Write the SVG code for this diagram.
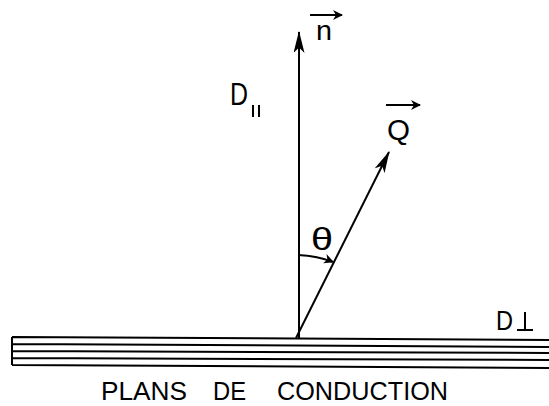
<svg xmlns="http://www.w3.org/2000/svg" width="549" height="406" viewBox="0 0 549 406">
<defs>
<marker id="ah" viewBox="0 0 10 10" refX="9" refY="5" markerWidth="10" markerHeight="10" markerUnits="userSpaceOnUse" orient="auto"><path d="M0,0 L10,5 L0,10 L3,5 Z" fill="#000"/></marker>
<marker id="big" viewBox="0 0 20 10" refX="19" refY="5" markerWidth="22" markerHeight="11" markerUnits="userSpaceOnUse" orient="auto"><path d="M0,0 L20,5 L0,10 L5,5 Z" fill="#000"/></marker>
</defs>
<style>
.l{stroke:#000;fill:none;stroke-width:2}
.t{font-family:"Liberation Sans",Arial,sans-serif;fill:#000}
</style>
<rect width="549" height="406" fill="#fff"/>
<g id="planes">
<path class="l" d="M12,337 L549,340 M12,344 L549,347 M12,351 L549,353 M12,358 L549,360 M12,365 L549,368 M12,337 L12,365" stroke-width="2.6"/>
</g>
<g id="connectors">
<line class="l" x1="299" y1="338" x2="299" y2="32" stroke-width="2.4" marker-end="url(#big)"/>
<line class="l" x1="296" y1="338" x2="389" y2="152" marker-end="url(#big)"/>
<path class="l" d="M298,255 Q318,256 333,262" marker-end="url(#ah)"/>
</g>
<g id="n">
<text class="t" x="316" y="40" font-size="28" textLength="16" lengthAdjust="spacingAndGlyphs">n</text>
<line class="l" x1="310" y1="15" x2="342" y2="15" stroke-width="2.5" marker-end="url(#ah)"/>
</g>
<g id="Q">
<text class="t" x="387" y="140" font-size="30" textLength="23" lengthAdjust="spacingAndGlyphs">Q</text>
<line class="l" x1="386" y1="105" x2="420" y2="105" stroke-width="2.5" marker-end="url(#ah)"/>
</g>
<g id="Dpar">
<text class="t" x="230" y="105" font-size="32" textLength="18" lengthAdjust="spacingAndGlyphs">D</text>
<path class="l" d="M253,105 L253,117 M259,105 L259,117" stroke-width="3"/>
</g>
<g id="Dperp">
<text class="t" x="496" y="330" font-size="27" textLength="17" lengthAdjust="spacingAndGlyphs">D</text>
<path class="l" d="M525,312 L525,330 M517,330 L533,330" stroke-width="2.5"/>
</g>
<g id="theta">
<text class="t" x="311" y="250" font-size="32" textLength="22" lengthAdjust="spacingAndGlyphs">θ</text>
</g>
<g id="caption">
<text class="t" x="101" y="400" font-size="25" textLength="86" lengthAdjust="spacingAndGlyphs">PLANS</text>
<text class="t" x="213" y="400" font-size="25" textLength="33" lengthAdjust="spacingAndGlyphs">DE</text>
<text class="t" x="277" y="400" font-size="25" textLength="171" lengthAdjust="spacingAndGlyphs">CONDUCTION</text>
</g>
</svg>
